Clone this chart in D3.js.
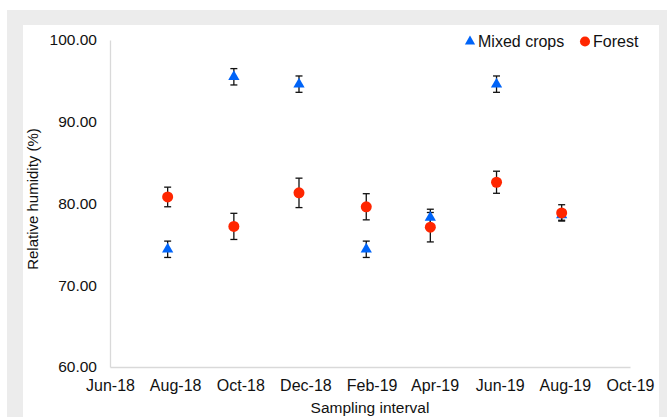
<!DOCTYPE html>
<html lang="en">
    <head>
        <meta charset="utf-8">
        <title>humidity</title>
        <script src="https://cdnjs.cloudflare.com/ajax/libs/d3/7.8.5/d3.min.js"></script>
        <style type="text/css">
        body { margin: 0; background: #fff; }
        text { font-family: "Liberation Sans", Arial, sans-serif; fill: #111; }
        </style>
    </head>
    <body>
        <div id="drawing"></div>
        <script type="text/javascript">
            // sampling dates and mean relative humidity
            var sampleDates = ["2018-07-25", "2018-09-25", "2018-11-25", "2019-01-27", "2019-03-28", "2019-05-29", "2019-07-29"];
            var mixedCrops = [74.4, 95.5, 94.6, 74.4, 78.3, 94.6, 78.6];
            var mixedErr = [1.0, 1.0, 1.0, 1.0, 1.0, 1.0, 0.65];
            var forest = [80.8, 77.2, 81.3, 79.6, 77.1, 82.6, 78.85];
            var forestErr = [1.2, 1.6, 1.8, 1.6, 1.8, 1.35, 1.0];
            var yTicks = [60, 70, 80, 90, 100];
            var xTicks = ["2018-06-01", "2018-08-01", "2018-10-01", "2018-12-01", "2019-02-01", "2019-04-01", "2019-06-01", "2019-08-01", "2019-10-01"];

            var parse = d3.timeParse("%Y-%m-%d");
            var blue = "#0064f8", red = "#ff2600";

            var svg = d3.select("#drawing")
                .append("svg")
                .attr("width", 667)
                .attr("height", 417);

            // frame
            svg.append("rect").attr("x", 7).attr("y", 10).attr("width", 660).attr("height", 407).style("fill", "#ececec");
            svg.append("rect").attr("x", 23).attr("y", 25).attr("width", 636).attr("height", 392).style("fill", "#fff");

            var x = d3.scaleTime()
                .domain([parse(xTicks[0]), parse(xTicks[xTicks.length - 1])])
                .range([110, 630]);
            var y = d3.scaleLinear()
                .domain([60, 100])
                .range([367, 40]);

            var xAxis = svg.append("g")
                .attr("transform", "translate(0,367)")
                .call(d3.axisBottom(x).tickValues(xTicks.map(parse)).tickFormat(d3.timeFormat("%b-%y")).tickSize(0).tickPadding(12.5));
            xAxis.select(".domain").attr("stroke", "#d9d9d9").attr("stroke-width", 1.3);
            xAxis.selectAll("text").style("font-size", "16px").attr("fill", "#111");

            var yAxis = svg.append("g")
                .attr("transform", "translate(110,0)")
                .call(d3.axisLeft(y).tickValues(yTicks).tickFormat(d3.format(".2f")).tickSize(0).tickPadding(13));
            yAxis.select(".domain").attr("stroke", "#d9d9d9").attr("stroke-width", 1.3);
            yAxis.selectAll("text").style("font-size", "15.5px").attr("fill", "#111");

            svg.append("text")
                .attr("x", 370).attr("y", 413)
                .attr("text-anchor", "middle")
                .style("font-size", "15.5px")
                .text("Sampling interval");

            svg.append("text")
                .attr("transform", "translate(38,199) rotate(-90)")
                .attr("text-anchor", "middle")
                .style("font-size", "15px")
                .text("Relative humidity (%)");

            var series = [
                {name: "Mixed crops", values: mixedCrops, err: mixedErr, color: blue, shape: d3.symbolTriangle},
                {name: "Forest", values: forest, err: forestErr, color: red, shape: d3.symbolCircle}
            ];

            // error bars first, markers on top
            series.forEach(function(s) {
                var g = svg.append("g").attr("stroke", "#111").attr("stroke-width", 1.3);
                for (var i = 0; i < s.values.length; i++) {
                    var cx = x(parse(sampleDates[i]));
                    var top = y(s.values[i] + s.err[i]);
                    var bot = y(s.values[i] - s.err[i]);
                    g.append("line").attr("x1", cx).attr("x2", cx).attr("y1", top).attr("y2", bot);
                    g.append("line").attr("x1", cx - 3.5).attr("x2", cx + 3.5).attr("y1", top).attr("y2", top);
                    g.append("line").attr("x1", cx - 3.5).attr("x2", cx + 3.5).attr("y1", bot).attr("y2", bot);
                }
            });

            series.forEach(function(s) {
                svg.append("g").selectAll("path")
                    .data(s.values)
                    .enter()
                    .append("path")
                    .attr("d", d3.symbol().type(s.shape).size(s.shape === d3.symbolCircle ? 95 : 55))
                    .attr("transform", function(d, i) {
                        return "translate(" + x(parse(sampleDates[i])) + "," + y(d) + ")";
                    })
                    .style("fill", s.color);
            });

            // legend
            var legendPos = [[470, 478], [585, 593]];
            series.forEach(function(s, i) {
                svg.append("path")
                    .attr("d", d3.symbol().type(s.shape).size(s.shape === d3.symbolCircle ? 80 : 45))
                    .attr("transform", "translate(" + legendPos[i][0] + ",41.5)")
                    .style("fill", s.color);
                svg.append("text")
                    .attr("x", legendPos[i][1]).attr("y", 46.5)
                    .style("font-size", "16px")
                    .text(s.name);
            });
        </script>
    </body>
</html>
